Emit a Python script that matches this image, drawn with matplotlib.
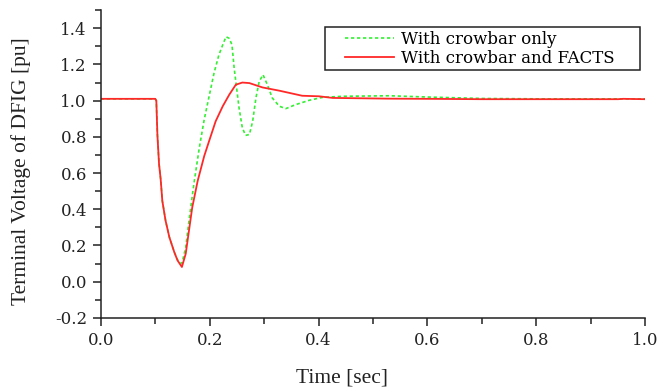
import matplotlib
matplotlib.use("Agg")
import matplotlib.pyplot as plt
from matplotlib.ticker import MultipleLocator
from matplotlib.patches import Rectangle

# Time (sec) and voltage (pu)
t_facts = [0.0, 0.1, 0.102, 0.104, 0.107, 0.110, 0.113, 0.119, 0.126, 0.135, 0.141, 0.149,
           0.156, 0.162, 0.168, 0.178, 0.190, 0.199, 0.211, 0.224, 0.236, 0.248, 0.260,
           0.273, 0.297, 0.328, 0.370, 0.401, 0.426, 0.53, 0.60, 0.70, 0.80, 0.90, 0.95, 0.96, 1.0]
v_facts = [1.01, 1.01, 1.0, 0.81, 0.65, 0.566, 0.447, 0.337, 0.245, 0.163, 0.117, 0.081,
           0.154, 0.282, 0.41, 0.557, 0.694, 0.777, 0.886, 0.969, 1.033, 1.088, 1.10,
           1.097, 1.073, 1.055, 1.027, 1.024, 1.015, 1.011, 1.01, 1.008, 1.008, 1.008, 1.008, 1.01, 1.008]

t_crow = [0.0, 0.1, 0.102, 0.104, 0.107, 0.110, 0.113, 0.119, 0.126, 0.135, 0.141, 0.149,
          0.156, 0.162, 0.171, 0.181, 0.190, 0.199, 0.208, 0.217, 0.224, 0.230, 0.236,
          0.241, 0.245, 0.248, 0.254, 0.260, 0.266, 0.273, 0.279, 0.285, 0.291, 0.298,
          0.306, 0.315, 0.328, 0.340, 0.358, 0.383, 0.407, 0.444, 0.53, 0.60, 0.70, 0.80, 0.90, 1.0]
v_crow = [1.01, 1.01, 1.0, 0.81, 0.65, 0.566, 0.447, 0.337, 0.245, 0.163, 0.12, 0.10,
          0.19, 0.337, 0.54, 0.74, 0.896, 1.024, 1.152, 1.253, 1.308, 1.353, 1.344,
          1.308, 1.18, 1.106, 0.96, 0.85, 0.808, 0.813, 0.886, 1.015, 1.106, 1.143,
          1.088, 1.015, 0.969, 0.956, 0.978, 1.002, 1.018, 1.024, 1.027, 1.02, 1.012, 1.01, 1.01, 1.01]

x_ticks = [0.0, 0.2, 0.4, 0.6, 0.8, 1.0]
y_ticks = [-0.2, 0.0, 0.2, 0.4, 0.6, 0.8, 1.0, 1.2, 1.4]
series_labels = ['With crowbar only', 'With crowbar and FACTS']

plt.rcParams['font.family'] = ['Liberation Serif', 'DejaVu Serif']

fig = plt.figure(figsize=(6.72, 3.9), dpi=100)
ax = fig.add_axes([0.150, 0.185, 0.810, 0.789])

ax.plot(t_crow, v_crow, color='#33f033', linestyle=(0, (2, 1.6)), linewidth=1.2,
        label=series_labels[0])
ax.plot(t_facts, v_facts, color='#ff2828', linestyle='-', linewidth=1.3,
        label=series_labels[1])

ax.set_xlim(0.0, 1.0)
ax.set_ylim(-0.2, 1.5)
ax.set_xticks(x_ticks)
ax.set_xticklabels([f"{v:.1f}" for v in x_ticks], family=['DejaVu Serif'])
ax.set_yticks(y_ticks)
ax.set_yticklabels([f"{v:.1f}" for v in y_ticks], family=['DejaVu Serif'])
ax.xaxis.set_minor_locator(MultipleLocator(0.1))
ax.yaxis.set_minor_locator(MultipleLocator(0.1))
ax.tick_params(which='major', direction='out', length=6, width=1.1, labelsize=12,
               colors='#222222', pad=4)
ax.tick_params(which='minor', direction='out', length=4, width=1.1, colors='#222222')
for s in ['top', 'right']:
    ax.spines[s].set_visible(False)
for s in ['left', 'bottom']:
    ax.spines[s].set_linewidth(1.1)
    ax.spines[s].set_color('#222222')

ax.set_xlabel('Time [sec]', fontsize=15.5, color='#222222', family=['Liberation Serif'])
ax.xaxis.set_label_coords(0.443, -0.165)
ax.set_ylabel('Terminal Voltage of DFIG [pu]', fontsize=15.5, color='#222222',
              family=['Liberation Serif'])
ax.yaxis.set_label_coords(-0.128, 0.477)

# legend frame
ax.add_patch(Rectangle((0.412, 0.805), 0.579, 0.140, transform=ax.transAxes,
                       fill=True, facecolor='white', edgecolor='#222222', linewidth=1.1,
                       zorder=4))
leg = ax.legend(loc='upper left', bbox_to_anchor=(0.449, 0.932),
                prop={'family': ['DejaVu Serif'], 'size': 12},
                frameon=False, handlelength=2.9, borderpad=0.0, labelspacing=0.1,
                handletextpad=0.42, borderaxespad=0.0)
leg.set_zorder(5)

fig.savefig('out.png', dpi=100)
